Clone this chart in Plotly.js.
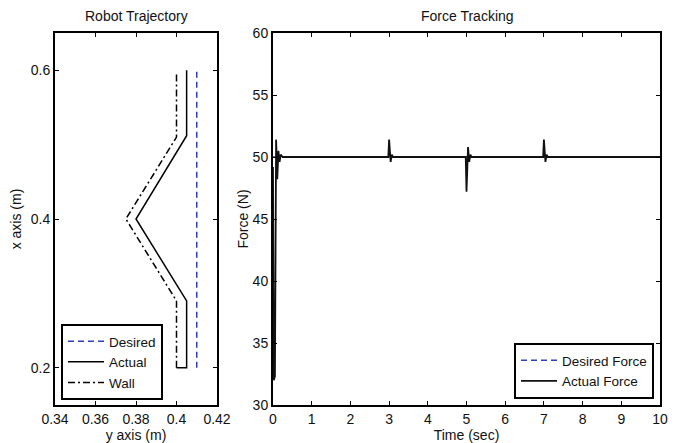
<!DOCTYPE html>
<html>
<head>
<meta charset="utf-8">
<script src="https://cdn.plot.ly/plotly-3.0.1.min.js"></script>
<style>html,body{margin:0;padding:0;background:#fff;}#chart{width:680px;height:443px;}</style>
</head>
<body>
<div id="chart"></div>
<script>
// Robot trajectory (left panel)
const desiredY = [0.41, 0.41];
const desiredX = [0.2, 0.598];
const actualY = [0.400, 0.405, 0.405, 0.380, 0.405, 0.405];
const actualX = [0.200, 0.200, 0.290, 0.400, 0.512, 0.600];
const wallY = [0.400, 0.400, 0.375, 0.400, 0.400];
const wallX = [0.200, 0.290, 0.400, 0.510, 0.597];

// Force tracking (right panel)
const desiredT = [0, 10];
const desiredF = [50, 50];
const actualT = [0, 0.02, 0.05, 0.08, 0.11, 0.14, 0.17, 0.20, 0.25, 2.98, 3.00, 3.04, 3.07, 3.10, 4.98, 5.00, 5.04, 5.07, 5.10, 5.13, 6.98, 7.00, 7.04, 7.07, 7.10, 10];
const actualF = [49.2, 32.0, 32.3, 51.4, 48.2, 50.5, 49.6, 50.2, 50.0, 50.0, 51.4, 49.6, 50.2, 50.0, 50.0, 47.2, 50.8, 49.6, 50.2, 50.0, 50.0, 51.4, 49.6, 50.2, 50.0, 50.0];

const xTicksL = [0.34, 0.36, 0.38, 0.4, 0.42];
const xTickTextL = ['0.34', '0.36', '0.38', '0.4', '0.42'];
const yTicksL = [0.2, 0.4, 0.6];
const xTicksR = [0,1,2,3,4,5,6,7,8,9,10];
const yTicksR = [30,35,40,45,50,55,60];

const blue = '#2f3fb5';
const font = {family: 'Liberation Sans, Arial, Helvetica, sans-serif', size: 14, color: '#111'};
const legFont = {family: 'Liberation Sans, Arial, Helvetica, sans-serif', size: 13.5, color: '#111'};

const traces = [
  {x: desiredY, y: desiredX, mode: 'lines', name: 'Desired', line: {color: blue, width: 1.5, dash: '6px,4px'}, xaxis: 'x', yaxis: 'y', legend: 'legend'},
  {x: actualY, y: actualX, mode: 'lines', name: 'Actual', line: {color: '#000', width: 1.5}, xaxis: 'x', yaxis: 'y', legend: 'legend'},
  {x: wallY, y: wallX, mode: 'lines', name: 'Wall', line: {color: '#000', width: 1.5, dash: '7px,3px,2px,3px'}, xaxis: 'x', yaxis: 'y', legend: 'legend'},
  {x: desiredT, y: desiredF, mode: 'lines', name: 'Desired Force', line: {color: blue, width: 1.5, dash: '6px,4px'}, xaxis: 'x2', yaxis: 'y2', legend: 'legend2'},
  {x: actualT, y: actualF, mode: 'lines', name: 'Actual Force', line: {color: '#111', width: 1.8}, xaxis: 'x2', yaxis: 'y2', legend: 'legend2'}
];

const axBase = {
  showline: true, linecolor: '#000', linewidth: 2, mirror: 'ticks',
  ticks: 'inside', ticklen: 4, tickcolor: '#000', tickwidth: 1,
  showgrid: false, zeroline: false, tickfont: font
};

const layout = {
  width: 680, height: 443,
  margin: {l: 0, r: 0, t: 0, b: 0},
  paper_bgcolor: '#fff', plot_bgcolor: '#fff',
  font: font,
  showlegend: true,
  xaxis: Object.assign({}, axBase, {domain: [55/680, 217/680], range: [0.34, 0.42], tickvals: xTicksL, ticktext: xTickTextL, anchor: 'y',
    title: {text: 'y axis (m)', font: font, standoff: 0}}),
  yaxis: Object.assign({}, axBase, {domain: [38/443, 410/443], range: [0.15, 0.65], tickvals: yTicksL, tickformat: '.1f', anchor: 'x',
    title: {text: 'x axis (m)', font: font, standoff: 6}}),
  xaxis2: Object.assign({}, axBase, {domain: [273/680, 660/680], range: [0, 10], tickvals: xTicksR, anchor: 'y2',
    title: {text: 'Time (sec)', font: font, standoff: 0}}),
  yaxis2: Object.assign({}, axBase, {domain: [38/443, 410/443], range: [30, 60], tickvals: yTicksR, anchor: 'x2',
    title: {text: 'Force (N)', font: font, standoff: 1}}),
  legend: {x: 61/680, y: (443-400)/443, xanchor: 'left', yanchor: 'bottom', bgcolor: '#fff', bordercolor: '#000', borderwidth: 2,
    font: legFont, tracegroupgap: 0, itemwidth: 36},
  legend2: {x: 654/680, y: (443-399)/443, xanchor: 'right', yanchor: 'bottom', bgcolor: '#fff', bordercolor: '#000', borderwidth: 2,
    font: legFont, tracegroupgap: 0, itemwidth: 36},
  annotations: [
    {text: 'Robot Trajectory', xref: 'paper', yref: 'paper', x: 136/680, y: (443-16)/443, xanchor: 'center', yanchor: 'middle', showarrow: false, font: font},
    {text: 'Force Tracking', xref: 'paper', yref: 'paper', x: 467/680, y: (443-16)/443, xanchor: 'center', yanchor: 'middle', showarrow: false, font: font}
  ]
};

Plotly.newPlot('chart', traces, layout, {displayModeBar: false, staticPlot: true});
</script>
</body>
</html>
